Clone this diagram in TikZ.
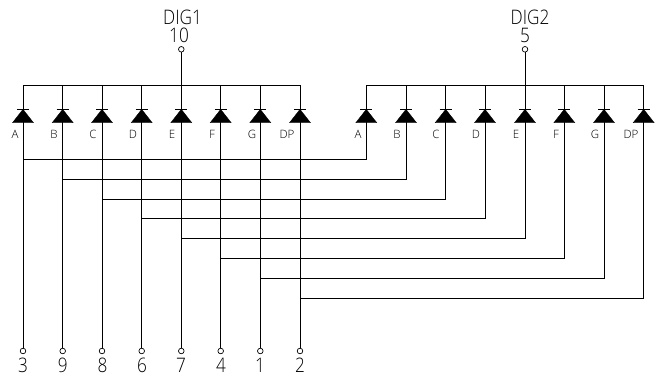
\documentclass[tikz,border=0pt]{standalone}
\usepackage{fontspec}
\setmainfont{Open Sans Light}
\newfontfamily\tallfont[FakeStretch=0.86]{Open Sans Light}
\tikzset{
  wire/.style={draw=black,line width=0.85pt},
  pin/.style={circle,draw=black,line width=0.7pt,fill=white,inner sep=0pt,minimum size=5.6pt},
  diodebody/.style={fill=black,draw=black,line width=0.3pt},
  biglabel/.style={font=\tallfont\fontsize{20}{20}\selectfont,inner sep=0pt,anchor=center},
  smalllabel/.style={font=\fontsize{11.5}{11.5}\selectfont,inner sep=0pt,anchor=center}
}
\begin{document}
\begin{tikzpicture}[x=1pt,y=-1pt]
\useasboundingbox (0,0) rectangle (660,374);
% common anode pins and buses
\coordinate (busL1) at (23,85.3);
\coordinate (busR1) at (300,85.3);
\coordinate (busL2) at (366.3,85.3);
\coordinate (busR2) at (643.7,85.3);
\node[pin] (pinDa) at (181.3,49.3) {};
\node[pin] (pinDb) at (525,49.3) {};
\node[biglabel] (dig1) at (182.5,17) {DIG1};
\node[biglabel] (num10) at (179,35) {10};
\node[biglabel] (dig2) at (530,17) {DIG2};
\node[biglabel] (num5) at (525,35) {5};
\draw[wire] (pinDa) -- (181.3,85.3);
\draw[wire] (pinDb) -- (525,85.3);
\draw[wire] (busL1) -- (busR1);
\draw[wire] (busL2) -- (busR2);
% segments: index/x1/x2/rung y/label/label x1/label x2/pin number/number x
\foreach \i/\xa/\xb/\yy/\lab/\la/\lb/\num/\nx in {
  1/23/366.3/159.3/A/15/358/3/23,
  2/62.7/406/179.3/B/54/397/9/62.7,
  3/102/445.7/199/C/93/436/8/102.5,
  4/141.7/485/218.7/D/133/476/6/142,
  5/181.3/525/238.7/E/172/516/7/181,
  6/220.7/564.3/258/F/212/556/4/221,
  7/260.3/604/278/G/252/595/1/260,
  8/300/643.7/298/DP/287/631/2/300}{
  \coordinate (ta\i) at (\xa,85.3);
  \coordinate (tb\i) at (\xb,85.3);
  \coordinate (ra\i) at (\xa,\yy);
  \coordinate (rb\i) at (\xb,\yy);
  \node[pin] (p\i) at (\xa,351) {};
  \node[biglabel] (n\i) at (\nx,365) {\num};
  \node[smalllabel] (la\i) at (\la,134.7) {\lab};
  \node[smalllabel] (lb\i) at (\lb,134.7) {\lab};
  \draw[wire] (ta\i) -- (p\i);
  \draw[wire] (tb\i) -- (rb\i) -- (ra\i);
  \foreach \x in {\xa,\xb}{
    \draw[wire] (\x-6,109.3) -- (\x+6,109.3);
    \path[diodebody] (\x,109.3) -- (\x+10.5,122.7) -- (\x-10.5,122.7) -- cycle;
  }
}
\end{tikzpicture}
\end{document}
